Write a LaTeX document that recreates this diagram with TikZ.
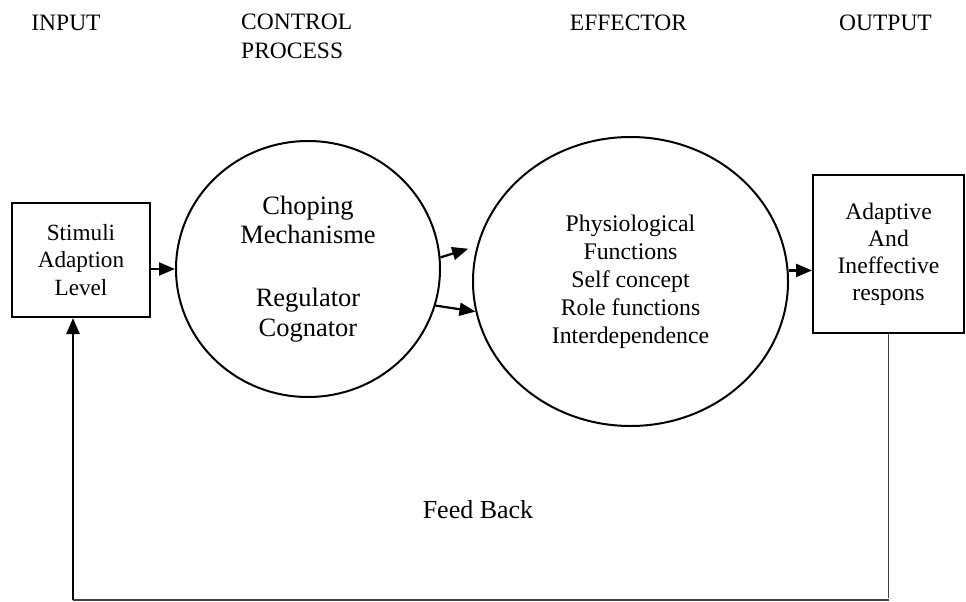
\documentclass[tikz,border=0pt]{standalone}
\usepackage{fontspec}
\setmainfont{Liberation Serif}
\usetikzlibrary{arrows.meta,shapes.geometric,calc}
\begin{document}
\begin{tikzpicture}[x=1pt,y=-1pt,
  head/.style={font=\fontsize{23.5}{29}\selectfont, inner sep=0pt},
  body/.style={font=\fontsize{23.2}{27.2}\selectfont, align=center},
  boxnode/.style={draw, line width=2pt, body, inner sep=0pt},
  ring/.style={draw, ellipse, line width=2pt, body, inner sep=0pt},
  arr/.style={line width=2.2pt, -{Triangle[length=16pt,width=13pt]}},
  thinln/.style={line width=1.2pt, black!75}
]
\useasboundingbox (0,0) rectangle (966,602);
% headings
\node[head] (hin) at (66,23) {INPUT};
\node[head, anchor=west, align=left] (hcp) at (241,36.5) {CONTROL\\PROCESS};
\node[head] (hef) at (628.5,23) {EFFECTOR};
\node[head] (hout) at (885.5,23) {OUTPUT};
% boxes
\node[boxnode, minimum width=138pt, minimum height=114pt] (b1) at (81,260) {Stimuli\\Adaption\\Level};
\node[boxnode, minimum width=151pt, minimum height=158pt, font=\fontsize{23.6}{27}\selectfont] (b2) at (888.5,254) {Adaptive\\And\\Ineffective\\respons};
% circles
\node[ring, minimum width=264pt, minimum height=256pt, font=\fontsize{26.5}{29.5}\selectfont] (c1) at (308,269)
  {Choping\\Mechanisme\\[33.5pt]Regulator\\Cognator};
\node[ring, minimum width=315pt, minimum height=289pt, font=\fontsize{23.8}{28}\selectfont] (c2) at (630.5,281.5)
  {Physiological\\Functions\\Self concept\\Role functions\\Interdependence};
% arrows
\draw[arr] (b1.east |- c1.west) -- (c1.west);
\draw[arr, shorten >=9pt] (c1.5) -- (c2.167);
\draw[arr] (c1.-16) -- (c2.191.5);
\draw[arr] (c2.4) -- (c2.4 -| b2.west);
% feedback
\node[font=\fontsize{26}{30}\selectfont] (fbt) at (478,510) {Feed Back};
\coordinate (fbL) at (73,600);
\draw[thinln] (b2.south) -- (b2.south |- 0,598);
\draw[thinln] (b2.south |- fbL) -- (fbL);
\draw[arr, line width=2.6pt] (fbL) -- (fbL |- b1.south);
\end{tikzpicture}
\end{document}
